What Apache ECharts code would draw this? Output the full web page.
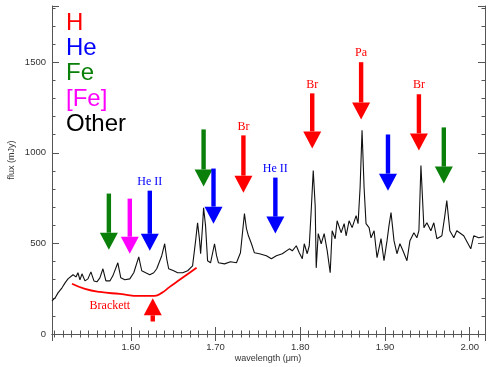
<!DOCTYPE html>
<html>
<head>
<meta charset="utf-8">
<script src="https://cdn.jsdelivr.net/npm/echarts@6/dist/echarts.min.js"></script>
<style>
    html, body { margin: 0; padding: 0; background: #fff; }
    #spectrum { width: 491px; height: 367px; }
</style>
</head>
<body>
<div id="spectrum"></div>
<script>
// spectrum (wavelength in um, flux in mJy)
const wavelength = [1.507, 1.5106, 1.5141, 1.5188, 1.5224, 1.5259, 1.5282, 1.5318, 1.5353, 1.5376,
    1.5400, 1.5424, 1.5459, 1.5494, 1.5529, 1.5565, 1.5600, 1.5635, 1.5671, 1.5706,
    1.5753, 1.5788, 1.5847, 1.5882, 1.5929, 1.5988, 1.6035, 1.6094, 1.6129, 1.6176,
    1.6224, 1.6271, 1.6306, 1.6365, 1.6400, 1.6424, 1.6447, 1.6506, 1.6553, 1.6612,
    1.6671, 1.6729, 1.6765, 1.6788, 1.6812, 1.6824, 1.6847, 1.6859, 1.6882, 1.6906,
    1.6941, 1.6988, 1.7012, 1.7035, 1.7106, 1.7176, 1.7247, 1.7294, 1.7341, 1.7365,
    1.7388, 1.7424, 1.7459, 1.7518, 1.7600, 1.7659, 1.7718, 1.7788, 1.7871, 1.7906,
    1.7953, 1.7988, 1.8024, 1.8047, 1.8082, 1.8106, 1.8129, 1.8153, 1.8176, 1.8188,
    1.8212, 1.8247, 1.8282, 1.8318, 1.8353, 1.8376, 1.8412, 1.8435, 1.8482, 1.8518,
    1.8541, 1.8576, 1.8612, 1.8659, 1.8682, 1.8706, 1.8729, 1.8753, 1.8776, 1.8812,
    1.8835, 1.8871, 1.8906, 1.8953, 1.8988, 1.9024, 1.9047, 1.9071, 1.9106, 1.9141,
    1.9176, 1.9212, 1.9259, 1.9294, 1.9341, 1.9376, 1.9400, 1.9424, 1.9459, 1.9494,
    1.9541, 1.9576, 1.9612, 1.9671, 1.9706, 1.9729, 1.9765, 1.9812, 1.9847, 1.9929,
    2.0012, 2.0047, 2.0106, 2.0165]
const flux = [183, 199, 227, 255, 282, 304, 293, 327, 315, 338,
    299, 332, 293, 304, 343, 293, 288, 310, 360, 293,
    293, 321, 393, 310, 299, 304, 338, 426, 349, 338,
    327, 338, 360, 432, 498, 415, 360, 349, 338, 338,
    349, 376, 515, 614, 515, 443, 598, 697, 598, 404,
    393, 498, 432, 393, 387, 399, 393, 448, 664, 581,
    542, 498, 448, 443, 432, 415, 432, 443, 470, 459,
    487, 448, 415, 498, 443, 487, 681, 902, 708, 365,
    554, 498, 554, 459, 338, 570, 526, 625, 559, 609,
    542, 625, 587, 653, 609, 808, 1124, 808, 609, 587,
    531, 570, 421, 526, 404, 515, 598, 670, 515, 443,
    498, 459, 404, 515, 559, 531, 570, 930, 587, 614,
    570, 614, 526, 542, 653, 736, 570, 531, 570, 542,
    470, 542, 531, 537]

// Brackett continuum (red curve)
const brackettX = [1.5306, 1.5459, 1.5635, 1.5871, 1.6106, 1.6282, 1.6365, 1.6459, 1.6576, 1.6694, 1.6776]
const brackettY = [277, 249, 232, 221, 210, 210, 227, 260, 299, 338, 365]

// line identification arrows: x, tail (flux), tip (flux)
const arrowX = [1.5741, 1.5988, 1.6224, 1.6859, 1.6976, 1.7329, 1.7706, 1.8141, 1.8718, 1.9035, 1.9400, 1.9694, 1.6259]
const arrowTail = [775, 747, 791, 1129, 913, 1096, 863, 1328, 1500, 1101, 1323, 1140, 69]
const arrowTip = [465, 443, 459, 814, 609, 780, 554, 1024, 1184, 791, 1013, 830, 197]
const arrowSpecies = ['Fe', '[Fe]', 'He', 'Fe', 'He', 'H', 'He', 'H', 'H', 'He', 'H', 'Fe', 'H']
const arrowLabels = ['', '', 'He II', '', '', 'Br', 'He II', 'Br', 'Pa', '', 'Br', '', '']

const legendNames = ['H', 'He', 'Fe', '[Fe]', 'Other']
const speciesColor = {
    'H': '#ff0000',
    'He': '#0000ff',
    'Fe': '#0a800a',
    '[Fe]': '#ff00ff',
    'Other': '#000000'
}

const axisColor = '#555'
const labelFont = 'Liberation Sans'

function renderArrow(params, api) {
    const i = params.dataIndex
    const p0 = api.coord([api.value(0), api.value(1)])
    const p1 = api.coord([api.value(0), api.value(2)])
    const dir = p1[1] > p0[1] ? 1 : -1
    const headH = 17
    const headW = 9
    const baseY = p1[1] - dir * headH
    const color = speciesColor[arrowSpecies[i]]
    const children = [
        {
            type: 'rect',
            shape: { x: p0[0] - 2.2, y: Math.min(p0[1], baseY), width: 4.4, height: Math.abs(baseY - p0[1]) },
            style: { fill: color }
        },
        {
            type: 'polygon',
            shape: { points: [[p1[0] - headW, baseY], [p1[0] + headW, baseY], [p1[0], p1[1]]] },
            style: { fill: color }
        }
    ]
    if (arrowLabels[i]) {
        children.push({
            type: 'text',
            style: {
                text: arrowLabels[i],
                x: p0[0],
                y: p0[1] - 3,
                align: 'center',
                verticalAlign: 'bottom',
                fill: color,
                font: '12px "Liberation Serif"'
            }
        })
    }
    return { type: 'group', children: children }
}

const tickStyle = {
    axisLine: { show: true, lineStyle: { color: axisColor, width: 1 } },
    axisTick: { show: true, inside: true, length: 7, lineStyle: { color: axisColor } },
    minorTick: { show: true, length: 3.5, lineStyle: { color: axisColor } },
    splitLine: { show: false }
}

function xAxisOpt(position, showLabel) {
    return Object.assign({
        type: 'value',
        position: position,
        min: 1.507,
        max: 2.018,
        splitNumber: 5,
        axisLabel: {
            show: showLabel,
            showMinLabel: false,
            showMaxLabel: false,
            margin: 8,
            color: '#333',
            fontSize: 9.5,
            fontFamily: labelFont,
            formatter: (v) => v.toFixed(2)
        }
    }, tickStyle, { minorTick: Object.assign({}, tickStyle.minorTick, { splitNumber: 10 }) })
}

function yAxisOpt(position, showLabel) {
    return Object.assign({
        type: 'value',
        position: position,
        min: 0,
        max: 1810,
        interval: 500,
        axisLabel: {
            show: showLabel,
            showMaxLabel: false,
            margin: 6,
            color: '#333',
            fontSize: 9.5,
            fontFamily: labelFont,
            formatter: (v) => String(v)
        }
    }, tickStyle, { minorTick: Object.assign({}, tickStyle.minorTick, { splitNumber: 5 }) })
}

const chart = echarts.init(document.getElementById('spectrum'))
const option = {
    animation: false,
    backgroundColor: '#fff',
    grid: { left: 52, right: 6, top: 6, bottom: 33, containLabel: false },
    xAxis: [xAxisOpt('bottom', true), xAxisOpt('top', false)],
    yAxis: [yAxisOpt('left', true), yAxisOpt('right', false)],
    graphic: [
        ...legendNames.map((n, i) => ({
            type: 'text',
            x: 66,
            y: 23 + i * 25.3,
            style: {
                text: n,
                fill: speciesColor[n],
                font: '24px "Liberation Sans"',
                verticalAlign: 'middle'
            }
        })),
        {
            type: 'text',
            x: 12,
            y: 160,
            rotation: Math.PI / 2,
            style: {
                text: 'flux (mJy)',
                fill: '#333',
                font: '9px "Liberation Sans"',
                align: 'center',
                verticalAlign: 'middle'
            }
        },
        {
            type: 'text',
            x: 268,
            y: 359,
            style: {
                text: 'wavelength (μm)',
                fill: '#333',
                font: '9px "Liberation Sans"',
                align: 'center',
                verticalAlign: 'middle'
            }
        }
    ],
    series: [
        {
            name: 'spectrum',
            type: 'line',
            data: wavelength.map((w, i) => [w, flux[i]]),
            showSymbol: false,
            lineStyle: { color: '#111', width: 1.1 },
            z: 2
        },
        {
            name: 'Brackett',
            type: 'line',
            data: brackettX.map((w, i) => [w, brackettY[i]]),
            smooth: true,
            showSymbol: false,
            lineStyle: { color: '#ff0000', width: 1.8 },
            markPoint: {
                symbol: 'circle',
                symbolSize: 0,
                data: [{ coord: [1.5753, 158] }],
                label: {
                    show: true,
                    position: 'inside',
                    formatter: 'Brackett',
                    color: '#ff0000',
                    fontSize: 12,
                    fontFamily: 'Liberation Serif'
                }
            },
            z: 3
        },
        {
            name: 'lines',
            type: 'custom',
            renderItem: renderArrow,
            data: arrowX.map((x, i) => [x, arrowTail[i], arrowTip[i]]),
            encode: { x: 0, y: [1, 2] },
            z: 4
        }
    ]
}
chart.setOption(option)
</script>
</body>
</html>
